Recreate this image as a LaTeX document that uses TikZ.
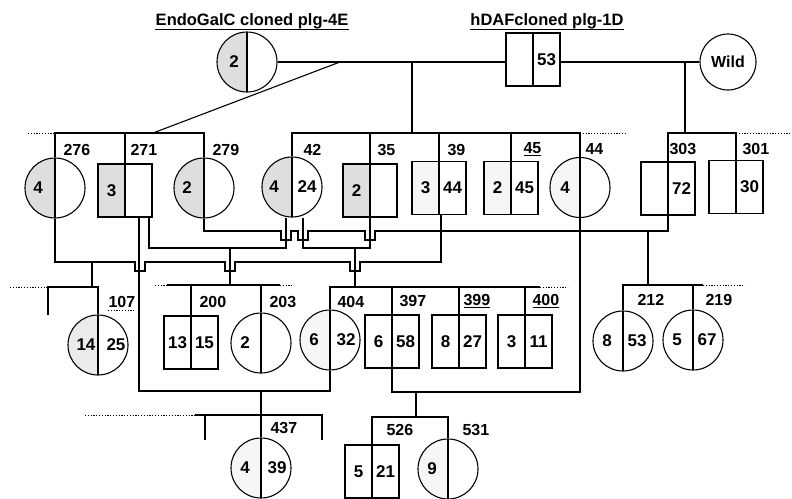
\documentclass[tikz,border=0pt]{standalone}
\usepackage{fontspec}
\setmainfont{Liberation Sans}
\newcommand\pidfont{\bfseries\fontsize{16}{16}\selectfont}
\newcommand\pttlfont{\bfseries\fontsize{16.5}{16.5}\selectfont}
\newcommand\pnumfont{\bfseries\fontsize{17}{17}\selectfont}
\begin{document}
\begin{tikzpicture}[x=1pt,y=-1pt,line width=1.1pt,
 fem/.style={circle,draw,minimum size=60pt,inner sep=0pt},
 mal/.style={rectangle,draw,minimum width=54pt,minimum height=53pt,inner sep=0pt},
 splitline/.style={path picture={\draw[line width=1.1pt] (path picture bounding box.north)--(path picture bounding box.south);}},
 halfshade/.style={path picture={\fill[#1] (path picture bounding box.south west) rectangle (path picture bounding box.north);\draw[line width=1.1pt] (path picture bounding box.north)--(path picture bounding box.south);}},
 num/.style={font=\pnumfont,inner sep=0pt},
 idl/.style={font=\pidfont,anchor=west,inner sep=0pt},
 ttl/.style={font=\pttlfont,anchor=base,inner sep=0pt},
 dots/.style={line width=0.8pt,dash pattern=on 1.2pt off 1.6pt},
 jump/.style={insert path={-- ++(0,9) -- ++(10,0) -- ++(0,-9)}},
 heavy/.style={halfshade=gray!26},
 light/.style={halfshade=gray!7},
 medium/.style={halfshade=gray!16}]
\useasboundingbox (0,0) rectangle (792,498);
% ---------- levels
\coordinate (L2) at (0,133);
\coordinate (A) at (0,262);
\coordinate (B) at (0,248);
\coordinate (C) at (0,231);
\coordinate (E) at (0,391);
\coordinate (F) at (0,392);
\coordinate (L3a) at (0,287);
\coordinate (L3b) at (0,285);
\coordinate (L4a) at (0,415);
\coordinate (L4b) at (0,417);
% ---------- generation 1
\node[ttl] (t1) at (252,25) {EndoGalC cloned plg-4E};
\draw[line width=0.9pt] (t1.west |- 0,29) -- (t1.east |- 0,29);
\node[ttl] (t2) at (547,25) {hDAFcloned plg-1D};
\draw[line width=0.9pt] (t2.west |- 0,29) -- (t2.east |- 0,29);
\node[fem,heavy] (g1) at (247,62) {};
\node[num] (g1L) at ([xshift=-13pt]g1.center) {2};
\node[mal,splitline] (d1) at (533,59.5) {};
\node[num] (d1R) at ([xshift=13.5pt]d1.center) {53};
\node[fem,minimum size=56pt,font=\pidfont] (wild) at (728,62) {Wild};
\draw (g1.east) -- (d1.west |- g1.east);
\draw (d1.east |- wild.west) -- (wild.west);
\coordinate (m1) at (340,62);
\coordinate (m2) at (412,62);
\coordinate (m3) at (685,62);
\coordinate (s1) at (153,133);
\draw (m1) -- (s1);
\draw (m2) -- (m2 |- L2);
\draw (m3) -- (m3 |- L2);
% ---------- generation 2
\node[fem,heavy] (n276) at (55,188) {};
\node[num] (n276L) at ([xshift=-17pt]n276.center) {4};
\node[mal,heavy] (n271) at (125,190.5) {};
\node[num] (n271L) at ([xshift=-13.5pt]n271.center) {3};
\node[fem,heavy] (n279) at (204,188) {};
\node[num] (n279L) at ([xshift=-17pt]n279.center) {2};
\node[fem,heavy] (n42) at (292,187) {};
\node[num] (n42L) at ([xshift=-18pt]n42.center) {4};
\node[num] (n42R) at ([xshift=15pt]n42.center) {24};
\node[mal,heavy] (n35) at (370,190.5) {};
\node[num] (n35L) at ([xshift=-13.5pt]n35.center) {2};
\node[mal,light] (n39) at (439,188) {};
\node[num] (n39L) at ([xshift=-13.5pt]n39.center) {3};
\node[num] (n39R) at ([xshift=13.5pt]n39.center) {44};
\node[mal,light] (n45) at (511,188) {};
\node[num] (n45L) at ([xshift=-13.5pt]n45.center) {2};
\node[num] (n45R) at ([xshift=13.5pt]n45.center) {45};
\node[fem,light] (n44) at (580,187.5) {};
\node[num] (n44L) at ([xshift=-15pt]n44.center) {4};
\node[mal,splitline] (n303) at (668,188.5) {};
\node[num] (n303R) at ([xshift=13.5pt]n303.center) {72};
\node[mal,splitline] (n301) at (736,187) {};
\node[num] (n301R) at ([xshift=13.5pt]n301.center) {30};
\node[idl] (l276) at (63,150) {276};
\node[idl] (l271) at (130,150) {271};
\node[idl] (l279) at (212,150) {279};
\node[idl] (l42) at (303,150) {42};
\node[idl] (l35) at (377,150) {35};
\node[idl] (l39) at (447,150) {39};
\node[idl] (l45) at (523,149) {\underline{45}};
\node[idl] (l44) at (585,149) {44};
\node[idl] (l303) at (669,149) {303};
\node[idl] (l301) at (742,149) {301};
\draw[dots] (28,133) -- (n276.north |- L2);
\draw (n276.north) -- (n276.north |- L2) -- (n279.north |- L2) -- (n279.north);
\draw (n271.north |- L2) -- (n271.north);
\draw (n42.north) -- (n42.north |- L2) -- (n44.north |- L2) -- (n44.north);
\draw (n35.north |- L2) -- (n35.north);
\draw (n39.north |- L2) -- (n39.north);
\draw (n45.north |- L2) -- (n45.north);
\draw[dots] (n44.north |- L2) -- (627,133);
\draw (n303.north) -- (n303.north |- L2) -- (n301.north |- L2) -- (n301.north);
\draw[dots] (n301.north |- L2) -- (792,133);
% ---------- matings of generation 2
\coordinate (k271) at ([xshift=14pt]n271.south);
\coordinate (k271b) at ([xshift=24pt]n271.south);
\coordinate (k42a) at ([xshift=-6pt]n42.south);
\coordinate (k42b) at ([xshift=11pt]n42.south);
\coordinate (k39) at ([xshift=2pt]n39.south);
% 276 x 39
\draw (n276.south) -- (n276.south |- A) -- (135,262) [jump] -- (225,262) [jump] -- (350,262) [jump] -- (k39 |- A) -- (k39);
% 271 x 42
\draw (k271b) -- (k271b |- B) -- (k42a |- B) -- (k42a);
% 279 x 303
\draw (n279.south) -- (n279.south |- C) -- (281,231) [jump] -- (298,231) [jump] -- (365,231) [jump] -- (n303.south |- C) -- (n303.south);
% 42 x 35
\draw (k42b) -- (k42b |- B) -- (n35.south |- B) -- (n35.south);
% descents
\coordinate (dA) at (92,262);
\coordinate (dB) at (230,248);
\coordinate (dD) at (355,248);
\coordinate (dC) at (648,231);
\draw (dA) -- (dA |- L3a);
\draw (dB) -- (dB |- L3b);
\draw (dD) -- (dD |- L3a);
\draw (dC) -- (dC |- L3b);
% ---------- generation 3
\node[fem,medium] (n107) at (98,345) {};
\node[num] (n107L) at ([xshift=-12pt]n107.center) {14};
\node[num] (n107R) at ([xshift=18pt]n107.center) {25};
\node[mal,splitline] (n200) at (191,342.5) {};
\node[num] (n200L) at ([xshift=-13.5pt]n200.center) {13};
\node[num] (n200R) at ([xshift=13.5pt]n200.center) {15};
\node[fem,splitline] (n203) at (261,343) {};
\node[num] (n203L) at ([xshift=-16pt]n203.center) {2};
\node[fem,light] (n404) at (330,340) {};
\node[num] (n404L) at ([xshift=-16pt]n404.center) {6};
\node[num] (n404R) at ([xshift=16pt]n404.center) {32};
\node[mal,splitline] (n397) at (392,341.5) {};
\node[num] (n397L) at ([xshift=-13.5pt]n397.center) {6};
\node[num] (n397R) at ([xshift=13.5pt]n397.center) {58};
\node[mal,splitline] (n399) at (459,341.5) {};
\node[num] (n399L) at ([xshift=-13.5pt]n399.center) {8};
\node[num] (n399R) at ([xshift=13.5pt]n399.center) {27};
\node[mal,splitline] (n400) at (525,341.5) {};
\node[num] (n400L) at ([xshift=-13.5pt]n400.center) {3};
\node[num] (n400R) at ([xshift=13.5pt]n400.center) {11};
\node[fem,splitline] (n212) at (623,341) {};
\node[num] (n212L) at ([xshift=-16pt]n212.center) {8};
\node[num] (n212R) at ([xshift=14pt]n212.center) {53};
\node[fem,splitline] (n219) at (693,340) {};
\node[num] (n219L) at ([xshift=-16pt]n219.center) {5};
\node[num] (n219R) at ([xshift=14pt]n219.center) {67};
\node[idl] (l107) at (108,302) {107};
\draw[dots] (l107.south west |- 0,310) -- (l107.south east |- 0,310);
\node[idl] (l200) at (199,302) {200};
\node[idl] (l203) at (269,302) {203};
\node[idl] (l404) at (337,302) {404};
\node[idl] (l397) at (399,301) {397};
\node[idl] (l399) at (463,301) {\underline{399}};
\node[idl] (l400) at (532,301) {\underline{400}};
\node[idl] (l212) at (637,300) {212};
\node[idl] (l219) at (705,300) {219};
% sibships of generation 3
\coordinate (st1) at (48,315);
\draw[dots] (10,287) -- (st1 |- L3a);
\draw (st1) -- (st1 |- L3a) -- (n107.north |- L3a) -- (n107.north);
\draw[dots] (155,285) -- (167,285);
\draw (167,285) -- (280,285);
\draw[dots] (280,285) -- (294,285);
\draw (n200.north |- L3b) -- (n200.north);
\draw (n203.north |- L3b) -- (n203.north);
\draw (n404.north) -- (n404.north |- L3a) -- (540,287);
\draw[dots] (540,287) -- (568,287);
\draw (n397.north |- L3a) -- (n397.north);
\draw (n399.north |- L3a) -- (n399.north);
\draw (n400.north |- L3a) -- (n400.north);
\draw (n212.north) -- (n212.north |- L3b) -- (703,285);
\draw[dots] (703,285) -- (745,285);
\draw (n219.north |- L3b) -- (n219.north);
% ---------- matings of generation 3
\draw (k271) -- (k271 |- E) -- (n404.south |- E) -- (n404.south);
\draw (n44.south) -- (n44.south |- F) -- (n397.south |- F) -- (n397.south);
% ---------- generation 4
\node[fem,light] (n437) at (261,468) {};
\node[num] (n437L) at ([xshift=-16pt]n437.center) {4};
\node[num] (n437R) at ([xshift=16pt]n437.center) {39};
\node[mal,splitline] (n526) at (372,471.5) {};
\node[num] (n526L) at ([xshift=-13.5pt]n526.center) {5};
\node[num] (n526R) at ([xshift=13.5pt]n526.center) {21};
\node[fem,light] (n531) at (448,469) {};
\node[num] (n531L) at ([xshift=-16pt]n531.center) {9};
\node[idl] (l437) at (270,428) {437};
\node[idl] (l526) at (386,430) {526};
\node[idl] (l531) at (462,430) {531};
\coordinate (st2) at (205,440);
\coordinate (st3) at (322,440);
\draw[dots] (85,415) -- (195,415);
\draw (195,415) -- (st2 |- L4a);
\draw (st2) -- (st2 |- L4a) -- (st3 |- L4a) -- (st3);
\draw (n437.north |- E) -- (n437.north);
\coordinate (dF) at (416,392);
\draw (dF) -- (dF |- L4b);
\draw (n526.north) -- (n526.north |- L4b) -- (n531.north |- L4b) -- (n531.north);
\end{tikzpicture}
\end{document}
